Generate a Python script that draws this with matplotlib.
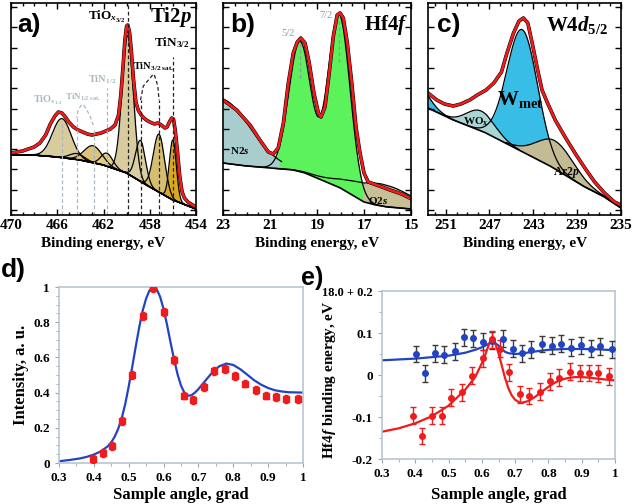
import numpy as np
import matplotlib
matplotlib.use('Agg')
import matplotlib.pyplot as plt
from matplotlib.ticker import FixedLocator, MultipleLocator

plt.rcParams['font.family'] = ['Liberation Serif', 'DejaVu Serif']
plt.rcParams['font.weight'] = 'bold'
plt.rcParams['axes.labelweight'] = 'bold'
plt.rcParams['mathtext.fontset'] = 'custom'
plt.rcParams['mathtext.rm'] = 'Liberation Serif:bold'
plt.rcParams['mathtext.it'] = 'Liberation Serif:italic:bold'
plt.rcParams['mathtext.bf'] = 'Liberation Serif:bold'

# ---------------- Panel a: Ti2p ----------------
ti_env_E = [470.0, 469.5, 469.0, 468.5, 468.0, 467.5, 467.0, 466.6, 466.2, 465.9, 465.6, 465.3,
            465.0, 464.6, 464.2, 463.8, 463.4, 463.0, 462.6, 462.2, 461.8, 461.4, 461.0, 460.7,
            460.5, 460.3, 460.15, 460.0, 459.9, 459.75, 459.6, 459.4, 459.2, 459.0, 458.8, 458.6,
            458.3, 458.0, 457.6, 457.3, 457.0, 456.7, 456.5, 456.3, 456.1, 455.95, 455.8, 455.6,
            455.4, 455.2, 455.0, 454.7, 454.3, 454.1]
ti_env_h = [61, 62, 63, 65, 67, 71, 79, 90, 98, 102, 101, 97,
            92, 87, 84, 82, 80, 79, 80, 81, 83, 85, 89, 99,
            119, 149, 174, 188, 189, 182, 164, 134, 112, 104, 100, 97,
            94, 92, 90, 91, 89, 86, 87, 92, 96, 95, 84, 62,
            37, 22, 16, 12, 9, 8]
ti_bg_E = [470, 468, 466, 464, 462, 460, 458, 456, 454]
ti_bg_h = [59, 59, 57, 54, 49, 41, 27, 14, 5]
ti_peak_center = [465.6, 464.3, 462.9, 461.7, 459.9, 458.8, 457.2, 456.0]
ti_peak_height = [39, 6, 17, 13, 138, 41, 58, 60]
ti_peak_fwhm = [1.9, 1.5, 1.8, 1.2, 1.15, 1.0, 1.15, 0.7]
ti_peak_color = ['#d8cb9e', '#d8cb9e', '#dcc27a', '#e2cd86', '#d8cb9e', '#d9cda2', '#d6be70', '#d9a91c']

# ---------------- Panel b: Hf4f ----------------
hf_env_E = [23.0, 22.42, 21.85, 21.43, 21.07, 20.86, 20.65, 20.43, 20.22, 20.01, 19.84, 19.69,
            19.51, 19.33, 19.13, 18.94, 18.83, 18.66, 18.48, 18.31, 18.14, 18.02, 17.88, 17.71,
            17.52, 17.34, 17.17, 17.0, 16.82, 16.46, 15.89, 15.40, 14.97]
hf_env_h = [114, 104, 89, 74, 62, 60, 66, 91, 131, 161, 172, 176,
            171, 151, 121, 101, 97, 107, 141, 177, 199, 201, 196, 171,
            131, 87, 61, 41, 32, 29, 24, 20, 15]
hf_bg_E = [23, 22, 21, 20, 19.5, 19, 18.5, 18, 17.5, 17, 16.5, 16, 15]
hf_bg_h = [51, 48, 46, 44, 41, 36, 31, 26, 19, 12, 9, 7, 5]
hf_comp_names = ['N2s', 'Hf5/2', 'Hf7/2', 'O2s']
hf_comp_center = [23.1, 19.72, 18.06, 16.3]
hf_comp_height = [64, 130, 173, 22]
hf_comp_fwhm = [2.94, 1.1, 1.1, 3.0]

# ---------------- Panel c: W4d5/2 ----------------
w_env_E = [252.6, 251.8, 251.1, 250.3, 249.6, 248.8, 248.1, 247.3, 246.6, 245.9, 245.4, 244.8,
           244.3, 243.9, 243.5, 243.1, 242.6, 242.2, 241.7, 241.0, 240.1, 239.2, 238.3, 237.4,
           236.5, 235.6, 235.0]
w_env_h = [121, 114, 110, 108, 110, 114, 119, 124, 131, 142, 161, 181,
           193, 196, 191, 171, 144, 124, 111, 94, 77, 61, 46, 32,
           21, 12, 9]
w_bg_E = [252.6, 250.3, 247.3, 244.3, 241.3, 238.3, 236.5, 235.0]
w_bg_h = [106, 94, 81, 64, 47, 27, 17, 6]
w_comp_names = ['Wmet', 'WOx', 'Ar2p', 'edge']
w_comp_center = [244.0, 247.8, 241.0, 254.0]
w_comp_height = [122, 20, 28, 25]
w_comp_fwhm = [3.3, 3.0, 4.0, 2.8]

# ---------------- Panel d ----------------
d_angle = [0.398, 0.425, 0.453, 0.480, 0.508, 0.542, 0.570, 0.602, 0.630, 0.660, 0.683,
           0.715, 0.745, 0.777, 0.805, 0.834, 0.866, 0.894, 0.923, 0.950, 0.985]
d_intensity = [0.023, 0.057, 0.098, 0.237, 0.502, 0.837, 0.995, 0.856, 0.587, 0.383, 0.356,
               0.432, 0.521, 0.536, 0.496, 0.451, 0.413, 0.383, 0.373, 0.364, 0.364]
d_err = 0.022
d_fit_x = [0.30, 0.33, 0.36, 0.38, 0.40, 0.42, 0.44, 0.45, 0.46, 0.47, 0.48, 0.49, 0.50,
           0.51, 0.52, 0.53, 0.54, 0.55, 0.56, 0.57, 0.58, 0.59, 0.60, 0.61, 0.62, 0.63,
           0.64, 0.65, 0.66, 0.67, 0.68, 0.69, 0.70, 0.72, 0.74, 0.76, 0.78, 0.80, 0.82,
           0.84, 0.86, 0.88, 0.90, 0.92, 0.94, 0.96, 0.98, 1.00]
d_fit_y = [0.010, 0.017, 0.026, 0.035, 0.048, 0.066, 0.095, 0.118, 0.150, 0.195, 0.255, 0.335,
           0.435, 0.545, 0.660, 0.770, 0.865, 0.935, 0.982, 1.000, 0.988, 0.945, 0.875, 0.785,
           0.685, 0.590, 0.505, 0.440, 0.398, 0.382, 0.385, 0.400, 0.420, 0.468, 0.515, 0.550,
           0.565, 0.557, 0.533, 0.502, 0.470, 0.445, 0.426, 0.413, 0.406, 0.402, 0.401, 0.400]

# ---------------- Panel e ----------------
e_red_x = [0.393, 0.421, 0.449, 0.479, 0.506, 0.539, 0.569, 0.602, 0.629, 0.656, 0.681,
           0.714, 0.742, 0.774, 0.805, 0.833, 0.865, 0.895, 0.923, 0.950, 0.983]
e_red_y = [-0.097, -0.145, -0.097, -0.097, -0.054, -0.041, -0.002, 0.040, 0.085, 0.063, 0.006,
           -0.046, -0.050, -0.040, -0.015, -0.006, 0.008, 0.005, 0.005, 0.004, -0.003]
e_blue_x = [0.401, 0.429, 0.460, 0.486, 0.519, 0.547, 0.574, 0.604, 0.631, 0.664, 0.694,
            0.721, 0.749, 0.781, 0.812, 0.838, 0.867, 0.898, 0.927, 0.955, 0.990]
e_blue_y = [0.050, 0.004, 0.052, 0.048, 0.056, 0.090, 0.087, 0.079, 0.082, 0.086, 0.063,
            0.052, 0.060, 0.074, 0.070, 0.075, 0.065, 0.071, 0.063, 0.068, 0.061]
e_err = 0.02
e_red_fit_x = [0.30, 0.35, 0.40, 0.45, 0.50, 0.55, 0.58, 0.60, 0.61, 0.62, 0.625, 0.63, 0.635,
               0.64, 0.65, 0.66, 0.67, 0.68, 0.69, 0.70, 0.71, 0.72, 0.74, 0.76, 0.78, 0.80,
               0.82, 0.84, 0.86, 0.88, 0.90, 0.92, 0.95, 1.00]
e_red_fit_y = [-0.135, -0.127, -0.115, -0.098, -0.073, -0.035, -0.005, 0.028, 0.048, 0.070,
               0.080, 0.085, 0.083, 0.075, 0.052, 0.022, -0.008, -0.032, -0.049, -0.059,
               -0.064, -0.066, -0.062, -0.052, -0.040, -0.028, -0.018, -0.011, -0.007, -0.005,
               -0.005, -0.006, -0.009, -0.013]
e_blue_fit_x = [0.30, 0.40, 0.50, 0.55, 0.58, 0.60, 0.62, 0.63, 0.64, 0.65, 0.66, 0.67, 0.68,
                0.70, 0.72, 0.75, 0.80, 0.85, 0.90, 0.95, 1.00]
e_blue_fit_y = [0.035, 0.039, 0.046, 0.053, 0.060, 0.066, 0.074, 0.078, 0.076, 0.070, 0.062,
                0.055, 0.052, 0.050, 0.051, 0.055, 0.060, 0.062, 0.062, 0.061, 0.059]


def gauss(E, c, A, fwhm):
    s = fwhm / 2.3548
    return A * np.exp(-(E - c) ** 2 / (2 * s * s))


W, H = 633, 504
fig = plt.figure(figsize=(W / 100, H / 100), dpi=100)


def px_axes(l, t, r, b):
    return fig.add_axes([l / W, 1 - b / H, (r - l) / W, (b - t) / H])


def style_spectrum(ax, xlim, majors, minor):
    ax.set_xlim(*xlim)
    ax.set_ylim(-1, 211)
    ax.xaxis.set_major_locator(FixedLocator(majors))
    ax.xaxis.set_minor_locator(MultipleLocator(minor))
    ax.set_yticks(np.arange(4, 211, 20.3))
    ax.tick_params(which='both', direction='in', top=True, right=True, labelleft=False,
                   width=1.0, labelsize=11, pad=3)
    ax.tick_params(which='major', length=4)
    ax.tick_params(which='minor', length=2.5)
    for sp in ax.spines.values():
        sp.set_linewidth(1.2)
        sp.set_zorder(10)
    ax.set_xticklabels([str(m) for m in majors], fontweight='bold')


def draw_envelope(ax, E, h):
    ax.plot(E, h, color='black', lw=2.6, zorder=5)
    ax.plot(E, h, color='#ee1c1c', lw=1.9, zorder=6)


# ---------- a ----------
axa = px_axes(11, 3, 196, 215)
Ea = np.linspace(454, 470, 900)
bga = np.interp(Ea, ti_bg_E[::-1], ti_bg_h[::-1])
for c, A, f, col in zip(ti_peak_center, ti_peak_height, ti_peak_fwhm, ti_peak_color):
    g = gauss(Ea, c, A, f)
    m = g > 0.3
    axa.fill_between(Ea[m], bga[m], bga[m] + g[m], color=col, lw=0, zorder=1)
for c, A, f in zip(ti_peak_center, ti_peak_height, ti_peak_fwhm):
    g = gauss(Ea, c, A, f)
    axa.plot(Ea, bga + g, color='black', lw=0.9, zorder=2)
axa.plot(Ea, bga, color='black', lw=1.2, zorder=2)
draw_envelope(axa, ti_env_E, ti_env_h)
dash = (0, (3, 2))
gray = '#a9b8c0'
for E0, top in zip([459.9, 458.8, 457.2, 456.0], [211, 114, 114, 157]):
    axa.plot([E0, E0], [-1, top], color='#222222', lw=0.9, ls=dash, zorder=7)
for E0, top in zip([465.6, 464.3, 462.8, 461.7], [91, 96, 86, 126]):
    axa.plot([E0, E0], [-1, top], color=gray, lw=0.9, ls=dash, zorder=7)
axa.plot([457.75, 458.55, 458.8], [139, 128, 114], color='#222222', lw=0.9, ls=dash, zorder=7)
axa.plot([457.6, 457.3, 457.2], [139, 128, 114], color='#222222', lw=0.9, ls=dash, zorder=7)
axa.plot([463.9, 464.2, 464.3], [109, 104, 96], color=gray, lw=0.9, ls=dash, zorder=7)
axa.plot([463.7, 463.2, 462.8], [109, 99, 86], color=gray, lw=0.9, ls=dash, zorder=7)
axa.text(460.1, 197, r'TiO$_{x_{3/2}}$', ha='right', va='center', fontsize=9.5, zorder=8)
axa.text(456.1, 171, r'TiN$_{3/2}$', ha='center', va='center', fontsize=9.5, zorder=8)
axa.text(457.7, 147, r'TiN$_{3/2\ \mathrm{sat.}}$', ha='center', va='center', fontsize=7.5, zorder=8)
axa.text(462.1, 134, r'TiN$_{1/2}$', ha='center', va='center', fontsize=7.5, color=gray, zorder=8)
axa.text(463.8, 117, r'TiN$_{1/2\ \mathrm{sat.}}$', ha='center', va='center', fontsize=6.5,
         color=gray, zorder=8)
axa.text(466.8, 114, r'TiO$_{x_{1/2}}$', ha='center', va='center', fontsize=7.5, color=gray, zorder=8)
axa.text(456.2, 197, r'Ti2$p$', ha='center', va='center', fontsize=15, zorder=8)
style_spectrum(axa, (470, 454), [470, 466, 462, 458, 454], 1)

# ---------- b ----------
axb = px_axes(223, 3, 411, 215)
Eb = np.linspace(15, 23, 900)
bgb = np.interp(Eb, hf_bg_E[::-1], hf_bg_h[::-1])
n2s = gauss(Eb, hf_comp_center[0], hf_comp_height[0], hf_comp_fwhm[0])
hf52 = gauss(Eb, hf_comp_center[1], hf_comp_height[1], hf_comp_fwhm[1])
hf72 = gauss(Eb, hf_comp_center[2], hf_comp_height[2], hf_comp_fwhm[2])
o2s = gauss(Eb, hf_comp_center[3], hf_comp_height[3], hf_comp_fwhm[3])
hfsum = hf52 + hf72
axb.fill_between(Eb, bgb, bgb + hfsum, where=hfsum > 0.5, color='#5cf25c', lw=0, zorder=1)
axb.fill_between(Eb, bgb, bgb + n2s, where=(Eb > 20.6), color='#a9cccc', lw=0, zorder=1.5)
axb.fill_between(Eb, bgb, bgb + o2s, where=(Eb < 17.05), color='#c7bf96', lw=0, zorder=1.5)
axb.plot(Eb, bgb + hfsum, color='black', lw=0.9, zorder=2)
axb.plot(Eb[Eb > 20.5], (bgb + n2s)[Eb > 20.5], color='black', lw=0.9, zorder=2)
axb.plot(Eb[Eb < 20.8], (bgb + o2s)[Eb < 20.8], color='black', lw=0.9, zorder=2)
axb.plot(Eb, bgb, color='black', lw=1.2, zorder=2)
draw_envelope(axb, hf_env_E, hf_env_h)
grayb = '#8c9ca4'
axb.plot([19.72, 19.72], [136, 172], color=grayb, lw=0.9, ls=dash, zorder=7)
axb.plot([18.06, 18.06], [152, 194], color=grayb, lw=0.9, ls=dash, zorder=7)
axb.text(20.23, 181, '5/2', ha='center', va='center', fontsize=7.5, color=grayb,
         fontweight='normal', zorder=8)
axb.text(18.6, 199, '7/2', ha='center', va='center', fontsize=7.5, color=grayb,
         fontweight='normal', zorder=8)
axb.text(22.28, 64, r'N2$s$', ha='center', va='center', fontsize=8, zorder=8)
axb.text(16.4, 14, r'O2$s$', ha='center', va='center', fontsize=8, zorder=8)
axb.text(16.05, 189, r'Hf4$f$', ha='center', va='center', fontsize=15, zorder=8)
style_spectrum(axb, (23, 15), [23, 21, 19, 17, 15], 0.5)

# ---------- c ----------
axc = px_axes(428, 3, 621, 215)
Ec = np.linspace(235, 252.6, 900)
bgc = np.interp(Ec, w_bg_E[::-1], w_bg_h[::-1])
wmet = gauss(Ec, w_comp_center[0], w_comp_height[0], w_comp_fwhm[0])
wox = gauss(Ec, w_comp_center[1], w_comp_height[1], w_comp_fwhm[1])
ar2p = gauss(Ec, w_comp_center[2], w_comp_height[2], w_comp_fwhm[2])
edge = gauss(Ec, w_comp_center[3], w_comp_height[3], w_comp_fwhm[3])
axc.fill_between(Ec, bgc, bgc + wmet + edge, color='#38bde6', lw=0, zorder=1)
axc.fill_between(Ec, bgc, bgc + ar2p, where=Ec < 245.5, color='#c2bb93', lw=0, zorder=1.5)
axc.fill_between(Ec, bgc, bgc + wox, where=Ec > 244.5, color='#a9d6d2', lw=0, zorder=1.6)
axc.plot(Ec, bgc + wmet + edge, color='black', lw=0.9, zorder=2)
axc.plot(Ec[Ec < 245.5], (bgc + ar2p)[Ec < 245.5], color='black', lw=0.9, zorder=2)
axc.plot(Ec[Ec > 244.3], (bgc + wox)[Ec > 244.3], color='black', lw=0.9, zorder=2)
axc.plot(Ec, bgc, color='black', lw=1.2, zorder=2)
draw_envelope(axc, w_env_E, w_env_h)
axc.text(244.2, 114, r'W$_{\mathrm{met}}$', ha='center', va='center', fontsize=15, zorder=8)
axc.text(248.2, 92, r'WO$_{\mathrm{x}}$', ha='center', va='center', fontsize=8, zorder=8)
axc.text(240.0, 42, r'Ar2$p$', ha='center', va='center', fontsize=8.5, zorder=8)
axc.text(239.0, 189, r'W4$d_{5/2}$', ha='center', va='center', fontsize=15, zorder=8)
style_spectrum(axc, (252.6, 235), [251, 247, 243, 239, 235], 1)

for cx in [103, 317, 525]:
    fig.text(cx / W, 1 - 243 / H, 'Binding energy, eV', ha='center', va='center', fontsize=11)

# ---------- d ----------
spine_col = '#b9c6d3'
axd = px_axes(59, 287, 303, 463)
axd.plot(d_fit_x, d_fit_y, color='#2244c4', lw=1.6, zorder=2)
axd.errorbar(d_angle, d_intensity, yerr=d_err, fmt='s', ms=4, color='#ee1c1c',
             ecolor='#ee1c1c', elinewidth=1.0, capsize=1.5, zorder=3)
axd.set_xlim(0.3, 1.0)
axd.set_ylim(0, 1.0)
d_xticks = [0.3, 0.4, 0.5, 0.6, 0.7, 0.8, 0.9, 1.0]
axd.set_xticks(d_xticks)
axd.set_xticklabels(['0.3', '0.4', '0.5', '0.6', '0.7', '0.8', '0.9', '1'])
axd.set_yticks([0, 0.2, 0.4, 0.6, 0.8, 1.0])
axd.set_yticklabels(['0', '0.2', '0.4', '0.6', '0.8', '1'])
axd.xaxis.set_minor_locator(MultipleLocator(0.05))
axd.yaxis.set_minor_locator(MultipleLocator(0.05))
axd.set_xlabel('Sample angle, grad', fontsize=12)
axd.set_ylabel('Intensity, a. u.', fontsize=12)
axd.xaxis.set_label_coords(0.5, -0.135)
axd.yaxis.set_label_coords(-0.123, 0.5)

# ---------- e ----------
axe = px_axes(382, 291, 615, 459)
axe.plot(e_blue_fit_x, e_blue_fit_y, color='#2244c4', lw=1.6, zorder=2)
axe.plot(e_red_fit_x, e_red_fit_y, color='#ee1c1c', lw=1.6, zorder=2)
axe.errorbar(e_blue_x, e_blue_y, yerr=e_err, fmt='o', ms=4, color='#2244c4',
             ecolor='#3a3a3a', elinewidth=1.0, capsize=2, zorder=3)
axe.errorbar(e_red_x, e_red_y, yerr=e_err, fmt='o', ms=4, color='#ee1c1c',
             ecolor='#ee1c1c', elinewidth=1.0, capsize=2, zorder=3)
axe.set_xlim(0.3, 1.0)
axe.set_ylim(-0.2, 0.2)
axe.set_xticks(d_xticks)
axe.set_xticklabels(['0.3', '0.4', '0.5', '0.6', '0.7', '0.8', '0.9', '1'])
axe.set_yticks([-0.2, -0.1, 0, 0.1, 0.2])
axe.set_yticklabels(['-0.2', '-0.1', '0', '0.1', '18.0 + 0.2'])
axe.xaxis.set_minor_locator(MultipleLocator(0.05))
axe.yaxis.set_minor_locator(MultipleLocator(0.05))
axe.set_xlabel('Sample angle, grad', fontsize=12)
axe.set_ylabel(r'Hf4$f$ binding energy, eV', fontsize=11)
axe.xaxis.set_label_coords(0.5, -0.165)
axe.yaxis.set_label_coords(-0.19, 0.47)

for ax in (axd, axe):
    for sp in ax.spines.values():
        sp.set_color(spine_col)
        sp.set_linewidth(1.2)
    ax.tick_params(which='both', direction='out', color='#9aa6b2', labelsize=9.5)
    ax.tick_params(which='major', length=3)
    ax.tick_params(which='minor', length=2)
for lab in axe.get_yticklabels():
    if lab.get_text().startswith('18'):
        lab.set_fontsize(9)

# panel letters
for s, x, y, fs in [('a)', 17, 25, 19), ('b)', 230, 25, 19), ('c)', 437, 25, 19),
                    ('d)', 1, 270, 19), ('e)', 301, 278, 18)]:
    fig.text(x / W, 1 - y / H, s, ha='left', va='center', fontsize=fs,
             fontfamily='Liberation Sans', fontweight='bold')

fig.savefig('out.png', dpi=100)
